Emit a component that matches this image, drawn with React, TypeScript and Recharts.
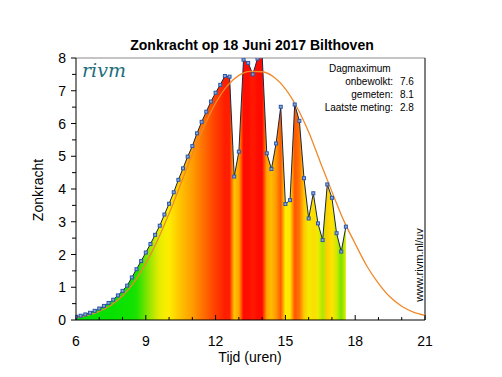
import React from 'react'
import {
  ComposedChart,
  Area,
  Line,
  XAxis,
  YAxis,
  ReferenceLine,
} from 'recharts'

// measured UV index, every 12 minutes
const measuredHours = [
  6.0, 6.2, 6.4, 6.6, 6.8, 7.0, 7.2, 7.4, 7.6, 7.8,
  8.0, 8.2, 8.4, 8.6, 8.8, 9.0, 9.2, 9.4, 9.6, 9.8,
  10.0, 10.2, 10.4, 10.6, 10.8, 11.0, 11.2, 11.4, 11.6, 11.8,
  12.0, 12.2, 12.4, 12.6, 12.8, 13.0, 13.2, 13.4, 13.6, 13.8,
  14.0, 14.2, 14.4, 14.6, 14.8, 15.0, 15.2, 15.4, 15.6, 15.8,
  16.0, 16.2, 16.4, 16.6, 16.8, 17.0, 17.2, 17.4, 17.6,
]
const measuredValues = [
  0.1, 0.13, 0.17, 0.22, 0.28, 0.35, 0.43, 0.52, 0.62, 0.75,
  0.89, 1.05, 1.3, 1.55, 1.8, 2.06, 2.32, 2.6, 2.88, 3.22,
  3.55, 3.9, 4.28, 4.63, 4.99, 5.31, 5.7, 6.05, 6.36, 6.67,
  6.94, 7.18, 7.45, 7.43, 4.38, 5.14, 7.95, 7.85, 7.5, 7.98,
  8.1, 5.09, 4.61, 5.39, 6.51, 3.54, 3.66, 6.58, 6.08, 4.33,
  3.1, 3.87, 2.95, 2.44, 4.14, 3.73, 2.65, 2.09, 2.85,
]

// clear sky (onbewolkt) model
const modelHours = [
  6, 6.5, 7, 7.5, 8, 8.5, 9, 9.5, 10, 10.5, 11, 11.5, 12, 12.5, 13, 13.5,
  14, 14.5, 15, 15.5, 16, 16.5, 17, 17.5, 18, 18.5, 19, 19.5, 20, 20.5, 21,
]
const modelValues = [
  0.07, 0.14, 0.26, 0.45, 0.74, 1.16, 1.73, 2.43, 3.25, 4.15, 5.06, 5.9, 6.62, 7.15, 7.47, 7.59,
  7.58, 7.42, 7.06, 6.49, 5.74, 4.82, 3.92, 3.05, 2.33, 1.65, 1.12, 0.7, 0.42, 0.24, 0.14,
]

const hourTicks = [6, 7, 8, 9, 10, 11, 12, 13, 14, 15, 16, 17, 18, 19, 20, 21]
const valueTicks = [0, 0.5, 1, 1.5, 2, 2.5, 3, 3.5, 4, 4.5, 5, 5.5, 6, 6.5, 7, 7.5, 8]

const legendLabels = ['onbewolkt:', 'gemeten:', 'Laatste meting:']
const legendValues = ['7.6', '8.1', '2.8']

const measured = measuredHours.map((t, i) => ({ t, v: measuredValues[i] }))
const model = modelHours.map((t, i) => ({ t, m: modelValues[i] }))

const FONT = 'Liberation Sans, Arial, Helvetica, sans-serif'

// colour scale green -> yellow -> orange -> red
const colorScale: [number, number[]][] = [
  [0, [0, 225, 0]],
  [1.5, [20, 226, 0]],
  [2.2, [140, 228, 0]],
  [2.8, [228, 236, 0]],
  [3.5, [255, 238, 0]],
  [4.3, [255, 200, 0]],
  [5.3, [255, 158, 0]],
  [6.3, [255, 104, 0]],
  [7.0, [255, 58, 0]],
  [7.6, [255, 20, 0]],
  [8.5, [255, 0, 0]],
]

const uvColor = (v: number) => {
  for (let i = 1; i < colorScale.length; i++) {
    const [v1, c1] = colorScale[i]
    const [v0, c0] = colorScale[i - 1]
    if (v <= v1) {
      const f = Math.max(0, (v - v0) / (v1 - v0))
      const c = c0.map((a, k) => Math.round(a + (c1[k] - a) * f))
      return `rgb(${c[0]},${c[1]},${c[2]})`
    }
  }
  return 'rgb(255,0,0)'
}

const tStart = measuredHours[0]
const tEnd = measuredHours[measuredHours.length - 1]

const XTick = (props: any) => {
  const { x, y, payload } = props
  const major = payload.value % 3 === 0
  return (
    <g>
      <line x1={x} y1={y} x2={x} y2={y - (major ? 5 : 3)} stroke="#000" />
      {major && (
        <text x={x} y={y + 26} textAnchor="middle" fontSize={14} fontFamily={FONT} fill="#000">
          {payload.value}
        </text>
      )}
    </g>
  )
}

const YTick = (props: any) => {
  const { x, y, payload } = props
  const major = Number.isInteger(payload.value)
  return (
    <g>
      <line x1={x} y1={y} x2={x - (major ? 5 : 4)} y2={y} stroke="#000" />
      {major && (
        <text x={x - 10} y={y + 5} textAnchor="end" fontSize={14} fontFamily={FONT} fill="#000">
          {payload.value}
        </text>
      )}
    </g>
  )
}

const Marker = (props: any) => {
  const { cx, cy, index } = props
  if (cx == null || cy == null) return <g key={`m-${index}`} />
  return (
    <rect key={`m-${index}`} x={cx - 1.5} y={cy - 1.5} width={3} height={3} fill="#8fa8d8" stroke="#2b56a6" strokeWidth={1} />
  )
}

export default function App() {
  return (
    <div style={{ position: 'absolute', left: 0, top: 0, width: 502, height: 377, background: '#fff' }}>
      <ComposedChart width={502} height={377} margin={{ top: 58, right: 77, bottom: 0, left: 16 }}>
        <defs>
          <linearGradient id="uvFill" x1="0" y1="0" x2="1" y2="0">
            {measured.map((d, i) => (
              <stop key={i} offset={(d.t - tStart) / (tEnd - tStart)} stopColor={uvColor(d.v)} />
            ))}
          </linearGradient>
        </defs>
        <XAxis
          dataKey="t"
          type="number"
          domain={[6, 21]}
          ticks={hourTicks}
          interval={0}
          allowDataOverflow
          height={57}
          tickSize={0}
          tickMargin={0}
          tickLine={false}
          axisLine={{ stroke: '#000' }}
          tick={<XTick />}
        />
        <YAxis
          type="number"
          domain={[0, 8]}
          ticks={valueTicks}
          interval={0}
          allowDataOverflow
          width={60}
          tickSize={0}
          tickMargin={0}
          tickLine={false}
          axisLine={{ stroke: '#000' }}
          tick={<YTick />}
        />
        <ReferenceLine y={8} stroke="#8a8a8a" />
        <ReferenceLine x={21} stroke="#000" />
        <Area
          data={measured}
          dataKey="v"
          type="linear"
          stroke="none"
          fill="url(#uvFill)"
          fillOpacity={1}
          baseValue={0}
          isAnimationActive={false}
        />
        <Line
          data={measured}
          dataKey="v"
          type="linear"
          stroke="#1c2540"
          strokeWidth={1}
          dot={<Marker />}
          isAnimationActive={false}
        />
        <Line
          data={model}
          dataKey="m"
          type="monotone"
          stroke="#f0892a"
          strokeWidth={1.3}
          dot={false}
          isAnimationActive={false}
        />
      </ComposedChart>

      <svg width={502} height={377} style={{ position: 'absolute', left: 0, top: 0, pointerEvents: 'none' }}>
        <text x={252} y={50} textAnchor="middle" fontSize={14} fontWeight="bold" fontFamily={FONT} fill="#000">
          Zonkracht op 18 Juni 2017 Bilthoven
        </text>
        <text x={250} y={362} textAnchor="middle" fontSize={14} fontFamily={FONT} fill="#000">
          Tijd (uren)
        </text>
        <text
          x={0}
          y={0}
          transform="translate(43,190) rotate(-90)"
          textAnchor="middle"
          fontSize={14}
          fontFamily={FONT}
          fill="#000"
        >
          Zonkracht
        </text>
        <text x={82} y={77} fontSize={19} fontStyle="italic" fontFamily="DejaVu Serif, serif" fill="#1b6e7a">
          rivm
        </text>
        <text x={329} y={72} fontSize={10} fontFamily={FONT} fill="#000">
          Dagmaximum
        </text>
        {legendLabels.map((l, i) => (
          <text key={l} x={393} y={85 + i * 13} textAnchor="end" fontSize={10} fontFamily={FONT} fill="#000">
            {l}
          </text>
        ))}
        {legendValues.map((v, i) => (
          <text key={i} x={400} y={85 + i * 13} fontSize={10} fontFamily={FONT} fill="#000">
            {v}
          </text>
        ))}
        <text
          x={0}
          y={0}
          transform="translate(423,265) rotate(-90)"
          textAnchor="middle"
          fontSize={11}
          fontFamily={FONT}
          fill="#000"
        >
          www.rivm.nl/uv
        </text>
      </svg>
    </div>
  )
}
